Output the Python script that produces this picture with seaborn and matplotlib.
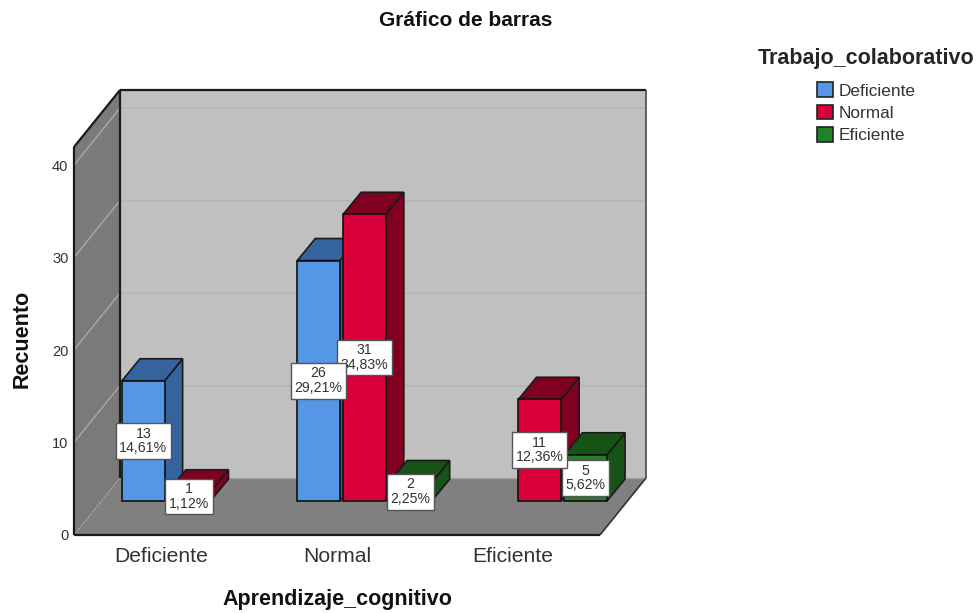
import matplotlib
matplotlib.use("Agg")
import matplotlib.pyplot as plt
from matplotlib.patches import Polygon
from matplotlib.transforms import Affine2D, IdentityTransform
import pandas as pd
import seaborn as sns

categories = ["Deficiente", "Normal", "Eficiente"]
series_names = ["Deficiente", "Normal", "Eficiente"]
deficiente_counts = [13, 26, 0]
normal_counts = [1, 31, 11]
eficiente_counts = [0, 2, 5]
deficiente_pct = ["14,61%", "29,21%", ""]
normal_pct = ["1,12%", "34,83%", "12,36%"]
eficiente_pct = ["", "2,25%", "5,62%"]
y_ticks = [0, 10, 20, 30, 40]

front_colors = ["#5596E6", "#D9003A", "#228026"]
side_colors = ["#35639B", "#80001F", "#175217"]

W, H = 979, 613
BAR_SHIFT = (27.5, 34)
BAR_DEPTH = (18, 22)
WALL_DEPTH = (46, 57)

rows = []
for name, counts, pcts in zip(series_names,
                              [deficiente_counts, normal_counts, eficiente_counts],
                              [deficiente_pct, normal_pct, eficiente_pct]):
    for cat, c, p in zip(categories, counts, pcts):
        rows.append({"cat": cat, "serie": name, "n": c, "pct": p})
df = pd.DataFrame(rows)

sns.set_style("white")
plt.rcParams["font.family"] = ["Liberation Sans", "DejaVu Sans"]

fig = plt.figure(figsize=(W / 100, H / 100), dpi=100)
ax = fig.add_axes([74 / W, 1 - 535 / H, 526 / W, 388 / H])

sns.barplot(data=df, x="cat", y="n", hue="serie", order=categories,
            hue_order=series_names, palette=front_colors, width=0.785, gap=0.07,
            saturation=1, edgecolor="#111111", linewidth=1.2, ax=ax)
ax.set_xlim(-0.5, 2.5)
ax.set_ylim(0, 41.95)
ax.set_yticks(y_ticks)
ax.tick_params(axis="y", length=0, pad=4, labelsize=10.5, labelcolor="#333333")
ax.tick_params(axis="x", length=0, pad=9, labelsize=15.2, labelcolor="#333333")
ax.patch.set_visible(False)
sns.despine(ax=ax, left=True, bottom=True)

ax.set_xlabel("Aprendizaje_cognitivo", fontsize=15.5, fontweight="bold", va="center", color="#111111")
ax.xaxis.set_label_coords(0.5, -65 / 388)
ax.set_ylabel("Recuento", fontsize=15.5, fontweight="bold", va="center", color="#111111")
ax.yaxis.set_label_coords(-52 / 526, 0.505)
fig.text(466 / W, 1 - 20.5 / H, "Gráfico de barras", fontsize=15, fontweight="bold",
         ha="center", va="center", color="#111111")


def pt(x, y, dx=0, dy=0):
    px, py = ax.transData.transform((x, y))
    return (px + dx, py + dy)


def poly(points, face, edge="none", lw=0, z=1):
    ax.add_patch(Polygon(points, closed=True, facecolor=face, edgecolor=edge, linewidth=lw,
                         transform=IdentityTransform(), clip_on=False, zorder=z))


def seg(a, b, color, lw=1.0, z=2, ls="-"):
    ax.plot([a[0], b[0]], [a[1], b[1]], color=color, lw=lw, ls=ls, solid_capstyle="butt",
            transform=IdentityTransform(), clip_on=False, zorder=z)


x0, x1 = ax.get_xlim()
y0, y1 = ax.get_ylim()
wx, wy = WALL_DEPTH

# walls and floor
poly([pt(x0, y0, wx, wy), pt(x1, y0, wx, wy), pt(x1, y1, wx, wy), pt(x0, y1, wx, wy)], "#C0C0C0")
poly([pt(x0, y0), pt(x0, y0, wx, wy), pt(x0, y1, wx, wy), pt(x0, y1)], "#7A7A7A")
poly([pt(x0, y0), pt(x1, y0), pt(x1, y0, wx, wy), pt(x0, y0, wx, wy)], "#808080")

for t in y_ticks[1:]:
    seg(pt(x0, t), pt(x0, t, wx, wy), "#A6A6A6", lw=1.1)
    seg(pt(x0, t, wx, wy), pt(x1, t, wx, wy), "#B4B4B4", lw=1.1)
seg(pt(x0, y0), pt(x0, y0, wx, wy), "#A6A6A6", lw=1.0, ls=":")
seg(pt(x0, y0, wx, wy), pt(x1, y0, wx, wy), "#A0A0A0", lw=1.0)

edge = "#1A1A1A"
seg(pt(x0, y0), pt(x0, y1), edge, lw=1.6, z=3)
seg(pt(x0, y1), pt(x0, y1, wx, wy), edge, lw=1.6, z=3)
seg(pt(x0, y0, wx, wy), pt(x0, y1, wx, wy), edge, lw=1.6, z=3)
seg(pt(x0, y1, wx, wy), pt(x1, y1, wx, wy), edge, lw=1.6, z=3)
seg(pt(x1, y0, wx, wy), pt(x1, y1, wx, wy), "#555555", lw=1.3, z=3)
seg(pt(x0, y0), pt(x1, y0), edge, lw=1.6, z=3)
seg(pt(x1, y0), pt(x1, y0, wx, wy), "#333333", lw=1.2, z=3)

# bars: seaborn draws the front faces, the 3D sides are built from them
sx, sy = BAR_SHIFT
dx, dy = BAR_DEPTH
shift = ax.transData + Affine2D().translate(sx, sy)
bars = []
for container, side, name in zip(ax.containers, side_colors, series_names):
    sub = df[df["serie"] == name]
    for bar, n, pct in zip(container.patches, sub["n"], sub["pct"]):
        bars.append((bar, side, n, pct))
bars.sort(key=lambda b: b[0].get_x())

label_z = 200
for i, (bar, side, n, pct) in enumerate(bars):
    if n == 0:
        bar.set_visible(False)
        continue
    z = 10 + i * 3
    left = bar.get_x()
    right = left + bar.get_width()
    b = pt(right, 0, sx, sy)
    c = pt(right, n, sx, sy)
    d = pt(left, n, sx, sy)
    poly([b, (b[0] + dx, b[1] + dy), (c[0] + dx, c[1] + dy), c], side, edge, 1.2, z)
    poly([d, c, (c[0] + dx, c[1] + dy), (d[0] + dx, d[1] + dy)], side, edge, 1.2, z)
    bar.set_transform(shift)
    bar.set_clip_on(False)
    bar.set_zorder(z + 1)
    ax.text((left + right) / 2, n / 2, f"{n}\n{pct}", transform=shift, ha="center", va="center",
            fontsize=10.2, linespacing=1.05, color="#333333", zorder=label_z - i,
            bbox=dict(boxstyle="square,pad=0.25", facecolor="white", edgecolor="#555555", linewidth=1.0))

handles = ax.get_legend().legend_handles
leg = ax.legend(handles, series_names, title="Trabajo_colaborativo", loc="center",
                bbox_to_anchor=(866 / W, 1 - 95.5 / H), bbox_transform=fig.transFigure, frameon=False,
                fontsize=12.4, handlelength=0.92, handleheight=0.92, handletextpad=0.32, labelspacing=0.36,
                borderpad=0, title_fontproperties={"size": 15.5, "weight": "bold"})
leg._legend_box.sep = 10
for h in leg.legend_handles:
    h.set_edgecolor("#222222")
    h.set_linewidth(1.2)
for t in leg.get_texts():
    t.set_color("#333333")
fig.savefig("out.png", dpi=100)
